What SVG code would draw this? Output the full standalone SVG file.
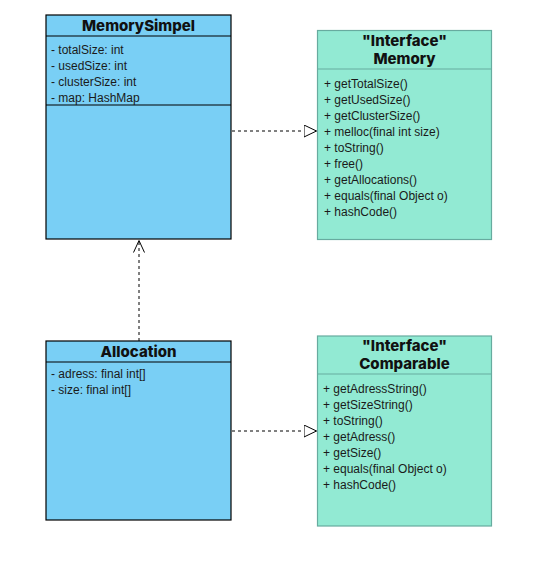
<svg xmlns="http://www.w3.org/2000/svg" width="549" height="574" viewBox="0 0 549 574">
<style>
.cls{fill:#79CFF5;stroke:#000;stroke-width:1.2}
.ifc{fill:#92EAD3;stroke:#67AB9F;stroke-width:1.2}
.div{stroke:#000;stroke-width:1.2}
.idiv{stroke:#67AB9F;stroke-width:1.2}
.t{font-family:"Inter","Liberation Sans",sans-serif;font-weight:800;font-size:15px;fill:#111;text-anchor:middle}
.m{font-family:"Liberation Sans",Arial,sans-serif;font-size:12px;fill:#1a1a1a}
.edge{fill:none;stroke:#000;stroke-width:1;stroke-dasharray:3 3}
</style>
<defs>
<marker id="tri" markerWidth="16" markerHeight="16" refX="13" refY="6.5" orient="auto" markerUnits="userSpaceOnUse">
<path d="M0.5,0.5 L13,6.5 L0.5,12.5 Z" fill="#fff" stroke="#000" stroke-width="1"/>
</marker>
<marker id="open" markerWidth="16" markerHeight="16" refX="12" refY="6" orient="auto" markerUnits="userSpaceOnUse">
<path d="M0,0.5 L12,6 L0,11.5" fill="none" stroke="#000" stroke-width="1"/>
</marker>
</defs>
<rect width="549" height="574" fill="#fff"/>
<g id="edges">
<path class="edge" d="M232,131 L316.5,131" marker-end="url(#tri)"/>
<path class="edge" d="M232,431 L316.5,431" marker-end="url(#tri)"/>
<path class="edge" d="M139,341 L139,240.5" marker-end="url(#open)"/>
</g>
<g id="MemorySimpel">
<rect class="cls" x="46" y="15" width="185" height="224"/>
<line class="div" x1="46" y1="36" x2="231" y2="36"/>
<line class="div" x1="46" y1="105" x2="231" y2="105"/>
<text class="t" x="138.5" y="30.5">MemorySimpel</text>
<text class="m" x="51" y="54">- totalSize: int</text>
<text class="m" x="51" y="70">- usedSize: int</text>
<text class="m" x="51" y="86">- clusterSize: int</text>
<text class="m" x="51" y="102">- map: HashMap</text>
</g>
<g id="Memory">
<rect class="ifc" x="317.5" y="30.5" width="174" height="209"/>
<line class="idiv" x1="317.5" y1="69" x2="491.5" y2="69"/>
<text class="t" x="404.5" y="45.5">"Interface"</text>
<text class="t" x="404.5" y="63.5">Memory</text>
<text class="m" x="324" y="87.5">+ getTotalSize()</text>
<text class="m" x="324" y="103.5">+ getUsedSize()</text>
<text class="m" x="324" y="119.5">+ getClusterSize()</text>
<text class="m" x="324" y="135.5">+ melloc(final int size)</text>
<text class="m" x="324" y="151.5">+ toString()</text>
<text class="m" x="324" y="167.5">+ free()</text>
<text class="m" x="324" y="183.5">+ getAllocations()</text>
<text class="m" x="324" y="199.5">+ equals(final Object o)</text>
<text class="m" x="324" y="215.5">+ hashCode()</text>
</g>
<g id="Allocation">
<rect class="cls" x="46" y="341" width="185" height="179"/>
<line class="div" x1="46" y1="362" x2="231" y2="362"/>
<text class="t" x="138.5" y="356.5">Allocation</text>
<text class="m" x="51" y="378">- adress: final int[]</text>
<text class="m" x="51" y="394">- size: final int[]</text>
</g>
<g id="Comparable">
<rect class="ifc" x="317.5" y="336" width="174" height="190"/>
<line class="idiv" x1="317.5" y1="374" x2="491.5" y2="374"/>
<text class="t" x="404.5" y="350.5">"Interface"</text>
<text class="t" x="404.5" y="368.5">Comparable</text>
<text class="m" x="323" y="393">+ getAdressString()</text>
<text class="m" x="323" y="409">+ getSizeString()</text>
<text class="m" x="323" y="425">+ toString()</text>
<text class="m" x="323" y="441">+ getAdress()</text>
<text class="m" x="323" y="457">+ getSize()</text>
<text class="m" x="323" y="473">+ equals(final Object o)</text>
<text class="m" x="323" y="489">+ hashCode()</text>
</g>
</svg>
